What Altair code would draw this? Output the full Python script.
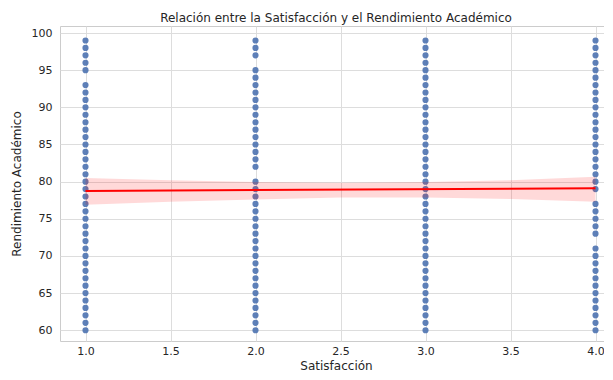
import altair as alt
import pandas as pd

# Rendimiento académico observado para cada nivel de satisfacción
sat_1 = [99, 98, 97, 96, 95, 93, 92, 91, 90, 89, 88, 87, 86, 85, 84, 83, 82, 81, 80,
         79, 78, 77, 76, 75, 74, 73, 72, 71, 70, 69, 68, 67, 66, 65, 64, 63, 62, 61, 60]
sat_2 = [99, 98, 97, 95, 94, 93, 92, 91, 90, 89, 88, 87, 86, 85, 84, 83, 82, 80,
         79, 78, 77, 76, 75, 74, 73, 72, 71, 70, 69, 68, 67, 66, 65, 64, 63, 62, 61, 60]
sat_3 = [99, 98, 97, 96, 95, 94, 93, 92, 91, 90, 89, 88, 87, 86, 85, 84, 83, 82, 81, 80,
         79, 78, 77, 76, 75, 74, 73, 72, 71, 70, 69, 68, 67, 66, 65, 64, 63, 62, 61, 60]
sat_4 = [99, 98, 97, 96, 95, 94, 93, 92, 91, 90, 89, 88, 87, 86, 85, 84, 83, 82, 81, 80,
         79, 77, 76, 75, 74, 73, 71, 70, 69, 68, 67, 66, 65, 64, 63, 62, 61, 60]

# Recta de regresión y banda de confianza
fit_x = [1.0, 4.0]
fit_y = [78.75, 79.1]
band_x = [1.0, 1.5, 2.0, 2.5, 3.0, 3.5, 4.0]
band_lo = [76.9, 77.3, 77.6, 77.85, 77.85, 77.65, 77.3]
band_hi = [80.5, 80.2, 79.95, 79.85, 79.95, 80.2, 80.65]

x_ticks = [1.0, 1.5, 2.0, 2.5, 3.0, 3.5, 4.0]
y_ticks = [60, 65, 70, 75, 80, 85, 90, 95, 100]

rows = []
for s, vals in [(1, sat_1), (2, sat_2), (3, sat_3), (4, sat_4)]:
    for v in vals:
        rows.append({"Satisfacción": s, "Rendimiento": v})
pts = pd.DataFrame(rows)
fit = pd.DataFrame({"Satisfacción": fit_x, "Rendimiento": fit_y})
band = pd.DataFrame({"Satisfacción": band_x, "lo": band_lo, "hi": band_hi})

xscale = alt.Scale(domain=[0.85, 4.097], nice=False, zero=False)
yscale = alt.Scale(domain=[58.55, 100.95], nice=False, zero=False)
xaxis = alt.Axis(values=x_ticks, format=".1f", title="Satisfacción", labelOverlap=False)
yaxis = alt.Axis(values=y_ticks, format="d", title="Rendimiento Académico", labelOverlap=False)

points = alt.Chart(pts).mark_circle(size=38, color="#4c72b0", opacity=0.9).encode(
    x=alt.X("Satisfacción:Q", scale=xscale, axis=xaxis),
    y=alt.Y("Rendimiento:Q", scale=yscale, axis=yaxis),
)

area = alt.Chart(band).mark_area(color="#ff0000", opacity=0.15).encode(
    x=alt.X("Satisfacción:Q", scale=xscale, axis=xaxis),
    y=alt.Y("lo:Q", scale=yscale, axis=yaxis),
    y2="hi:Q",
)

line = alt.Chart(fit).mark_line(color="#ff0000", strokeWidth=2).encode(
    x=alt.X("Satisfacción:Q", scale=xscale, axis=xaxis),
    y=alt.Y("Rendimiento:Q", scale=yscale, axis=yaxis),
)

chart = alt.layer(points, area, line).properties(
    width=552,
    height=315,
    title=alt.TitleParams(
        "Relación entre la Satisfacción y el Rendimiento Académico",
        font="DejaVu Sans", fontSize=12, fontWeight="normal", color="#262626",
        anchor="middle", offset=1,
    ),
    autosize=alt.AutoSizeParams(type="none"),
    padding={"left": 52, "top": 18, "right": -8, "bottom": 31},
).configure_view(
    stroke="#cccccc", strokeWidth=1
).configure_axis(
    labelFont="DejaVu Sans", labelFontSize=11, labelColor="#262626",
    titleFont="DejaVu Sans", titleFontSize=12, titleFontWeight="normal", titleColor="#262626",
    grid=True, gridColor="#dddddd", gridWidth=1,
    domain=False, ticks=False,
).configure_axisX(
    labelPadding=4, titlePadding=4,
).configure_axisY(
    labelPadding=8, titlePadding=8,
)

chart.save("out.html", embed_options={"renderer": "svg", "actions": False})
